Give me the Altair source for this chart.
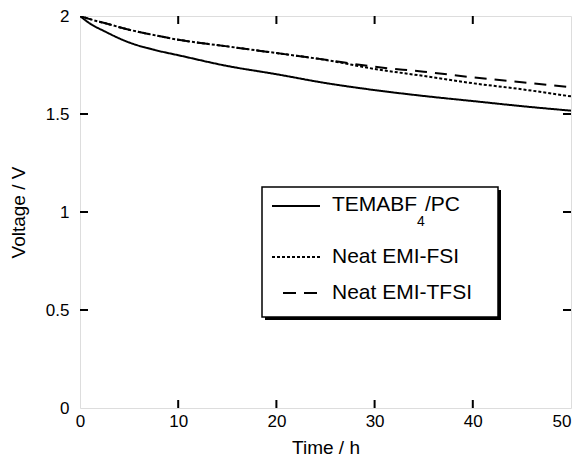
import altair as alt
import pandas as pd

# ---- data ----
time_h = [0, 1, 2.5, 5, 7.5, 10, 15, 20, 25, 30, 35, 40, 45, 50]
v_temabf4 = [2.0, 1.962, 1.922, 1.865, 1.828, 1.800, 1.745, 1.703, 1.658, 1.622, 1.592, 1.566, 1.540, 1.517]
v_emi_fsi = [2.0, 1.984, 1.964, 1.930, 1.903, 1.879, 1.845, 1.811, 1.776, 1.730, 1.694, 1.657, 1.626, 1.590]
v_emi_tfsi = [2.0, 1.984, 1.964, 1.930, 1.903, 1.879, 1.845, 1.811, 1.777, 1.741, 1.716, 1.687, 1.662, 1.636]
series = ["TEMABF4/PC", "Neat EMI-FSI", "Neat EMI-TFSI"]
x_ticks = [0, 10, 20, 30, 40, 50]
y_ticks = [0, 0.5, 1, 1.5, 2]
x_minor = [10, 20, 30, 40]
y_minor = [0.5, 1, 1.5]

rows = []
for name, vals in zip(series, [v_temabf4, v_emi_fsi, v_emi_tfsi]):
    for t, v in zip(time_h, vals):
        rows.append({"t": t, "v": v, "s": name})
df = pd.DataFrame(rows)

W, H = 491, 392
FONT = "Liberation Sans, Arial, Helvetica, sans-serif"
TL = 8  # tick length

xs = alt.Scale(domain=[0, 50], nice=False, zero=False)
ys = alt.Scale(domain=[0, 2], nice=False, zero=False)

lines = alt.Chart(df).mark_line(color="black", strokeWidth=2, clip=True,
                                interpolate="monotone").encode(
    x=alt.X("t:Q", scale=xs, axis=alt.Axis(
        values=x_ticks, title="Time / h", tickSize=0, domain=False, grid=False,
        labelFontSize=17, labelPadding=5, labelFlush=False, labelColor="black",
        labelAlign=alt.condition("datum.value >= 50", alt.value("right"), alt.value("center")),
        labelFont=FONT, titleFont=FONT, titleFontSize=19, titleFontWeight="normal",
        titleColor="black", titleBaseline="alphabetic", titleY=45)),
    y=alt.Y("v:Q", scale=ys, axis=alt.Axis(
        values=y_ticks, format="~g", title="Voltage / V", tickSize=0, domain=False,
        grid=False, labelFontSize=17, labelPadding=11, labelColor="black",
        labelFont=FONT, titleFont=FONT, titleFontSize=19, titleFontWeight="normal",
        titleColor="black", titleX=-62, titleY=H / 2, titleAngle=270,
        titleBaseline="middle", titleAlign="center")),
    strokeDash=alt.StrokeDash("s:N", scale=alt.Scale(
        domain=series, range=[[1, 0], [3, 2], [12, 8]]), legend=None),
    detail="s:N",
)

xt = pd.DataFrame({"t": x_minor})
yt = pd.DataFrame({"v": y_minor})
tick_top = alt.Chart(xt).mark_rule(color="black", strokeWidth=2).encode(
    x=alt.X("t:Q", scale=xs), y=alt.value(0), y2=alt.value(TL))
tick_bot = alt.Chart(xt).mark_rule(color="black", strokeWidth=2).encode(
    x=alt.X("t:Q", scale=xs), y=alt.value(H), y2=alt.value(H - TL))
tick_left = alt.Chart(yt).mark_rule(color="black", strokeWidth=2).encode(
    y=alt.Y("v:Q", scale=ys), x=alt.value(0), x2=alt.value(TL))
tick_right = alt.Chart(yt).mark_rule(color="black", strokeWidth=2).encode(
    y=alt.Y("v:Q", scale=ys), x=alt.value(W), x2=alt.value(W - TL))

one = alt.Data(values=[{}])
# legend box (plot-area pixel coordinates)
LX0, LY0, LX1, LY1 = 182, 171, 418, 301
shadow = alt.Chart(one).mark_rect(color="black").encode(
    x=alt.value(LX0 + 3), x2=alt.value(LX1 + 3), y=alt.value(LY0 + 3), y2=alt.value(LY1 + 3))
box = alt.Chart(one).mark_rect(fill="white", stroke="black", strokeWidth=1.5).encode(
    x=alt.value(LX0), x2=alt.value(LX1), y=alt.value(LY0), y2=alt.value(LY1))

row_y = [190, 241, 277]
sample_x = [(192, 240), (192, 240), (203, 237)]
dashes = [[1, 0], [3, 2], [13, 8]]
leg_layers = [shadow, box]
for (x0, x1), yy, dsh in zip(sample_x, row_y, dashes):
    leg_layers.append(alt.Chart(one).mark_rule(color="black", strokeWidth=2, strokeDash=dsh).encode(
        x=alt.value(x0), x2=alt.value(x1), y=alt.value(yy)))

TX = 252
FS = 21
def txt(s, x, y, size=FS):
    return alt.Chart(one).mark_text(text=s, font=FONT, fontSize=size, align="left",
                                    baseline="middle", color="black").encode(
        x=alt.value(x), y=alt.value(y))

leg_layers += [
    txt("TEMABF", TX, row_y[0] - 1),
    txt("4", TX + 85, row_y[0] + 16, 14),
    txt("/PC", TX + 93, row_y[0] - 1),
    txt(series[1], TX, row_y[1]),
    txt(series[2], TX, row_y[2]),
]

chart = alt.layer(lines, tick_top, tick_bot, tick_left, tick_right, *leg_layers).properties(
    width=W, height=H,
    autosize=alt.AutoSizeParams(type="none"),
    padding={"left": 72, "top": 8, "right": 1, "bottom": 48},
).configure_view(stroke="black", strokeWidth=2).configure(background="white")

chart.save("out.html", embed_options={"renderer": "svg", "actions": False})
